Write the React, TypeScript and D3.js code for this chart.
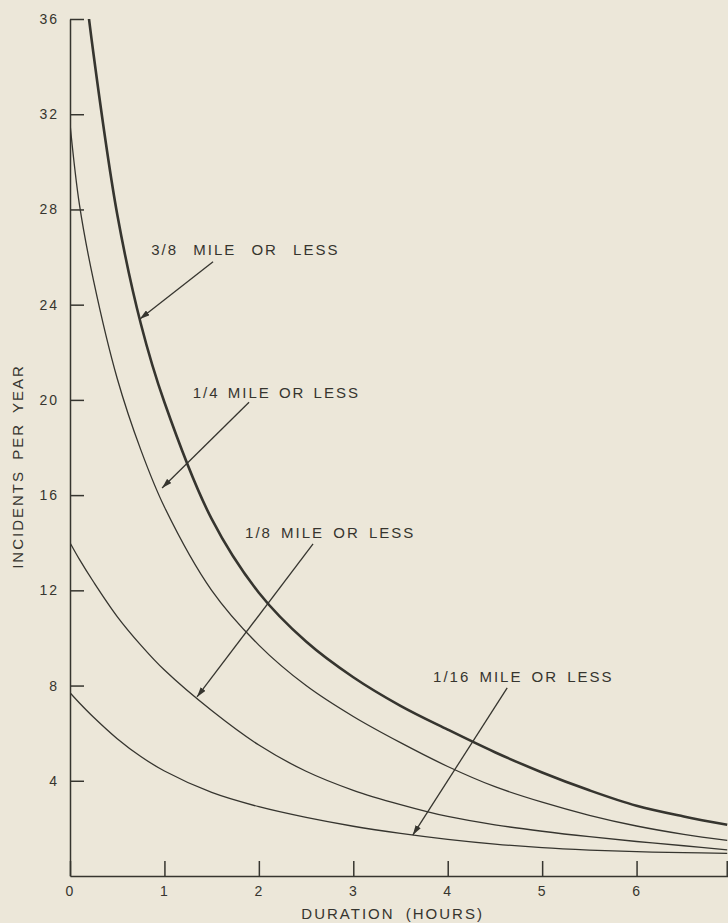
import * as d3 from "d3";
import * as React from "react";
import { useEffect, useRef } from "react";

const width = 728;
const height = 923;

// duration in hours, shared by every curve
const hours = [0, 0.1, 0.25, 0.5, 0.75, 1, 1.5, 2, 2.5, 3, 3.5, 4, 4.5, 5, 5.5, 6, 6.5, 6.96];

// incidents per year
const threeEighthMile = [43.8, 39.5, 34.5, 27.8, 23.2, 19.9, 15.0, 11.9, 9.85, 8.35, 7.15, 6.15, 5.2, 4.35, 3.6, 2.95, 2.5, 2.15];
const quarterMile = [31.6, 28.2, 25.0, 20.9, 17.9, 15.5, 12.0, 9.7, 8.0, 6.7, 5.6, 4.6, 3.75, 3.1, 2.55, 2.1, 1.75, 1.5];
const eighthMile = [14.0, 13.3, 12.35, 10.9, 9.7, 8.65, 6.95, 5.5, 4.4, 3.6, 3.0, 2.5, 2.15, 1.88, 1.65, 1.45, 1.27, 1.1];
const sixteenthMile = [7.7, 7.27, 6.67, 5.77, 5.02, 4.41, 3.51, 2.91, 2.46, 2.09, 1.79, 1.54, 1.34, 1.19, 1.09, 1.02, 0.98, 0.95];

const xTicks = [0, 1, 2, 3, 4, 5, 6];
const yTicks = [4, 8, 12, 16, 20, 24, 28, 32, 36];
const xEnd = 6.96;

const series = [
  { name: "3/8 MILE OR LESS", values: threeEighthMile, heavy: true },
  { name: "1/4 MILE OR LESS", values: quarterMile, heavy: false },
  { name: "1/8 MILE OR LESS", values: eighthMile, heavy: false },
  { name: "1/16 MILE OR LESS", values: sixteenthMile, heavy: false },
];

// label / arrow anchors in data units (hours, incidents)
const notes = [
  { text: "3/8 MILE OR LESS", label: [0.86, 26.1], tail: [1.515, 25.8], tip: [0.74, 23.4], ws: 9 },
  { text: "1/4 MILE OR LESS", label: [1.3, 20.1], tail: [1.896, 19.9], tip: [0.975, 16.3], ws: 2 },
  { text: "1/8 MILE OR LESS", label: [1.854, 14.2], tail: [2.574, 13.95], tip: [1.345, 7.52], ws: 3 },
  { text: "1/16 MILE OR LESS", label: [3.845, 8.15], tail: [4.63, 7.9], tip: [3.63, 1.72], ws: 3 },
];

const ink = "#36352f";
const paper = "#ece7d9";
const font = "'Liberation Sans', Arial, sans-serif";

const x = d3.scaleLinear().domain([0, 7]).range([70, 731]);
const y = d3.scaleLinear().domain([0, 36]).range([876, 19]);

export default function App() {
  const xAxisRef = useRef<SVGGElement>(null);
  const yAxisRef = useRef<SVGGElement>(null);

  useEffect(() => {
    const gx = d3.select(xAxisRef.current);
    gx.call(
      d3.axisBottom(x).tickValues(xTicks).tickSizeInner(-15).tickSizeOuter(0).tickPadding(10).tickFormat(d3.format("d"))
    );
    const gy = d3.select(yAxisRef.current);
    gy.call(
      d3.axisLeft(y).tickValues(yTicks).tickSizeInner(-14).tickSizeOuter(0).tickPadding(11).tickFormat(d3.format("d"))
    );
    [gx, gy].forEach((g) => {
      g.selectAll("path, line").attr("stroke", ink).attr("stroke-width", 1.5);
      g.selectAll("text")
        .attr("fill", ink)
        .style("font-family", font)
        .style("font-size", "14px")
        .style("letter-spacing", "2px");
    });
  }, []);

  const line = d3
    .line<number>()
    .x((_, i) => x(hours[i]))
    .y((d) => y(d))
    .curve(d3.curveCatmullRom.alpha(0.5));

  return (
    <svg
      width={width}
      height={height}
      style={{ position: "absolute", left: 0, top: 0, display: "block" }}
    >
      <defs>
        <clipPath id="plot">
          <rect x={x(0)} y={y(36)} width={x(7) - x(0)} height={y(0) - y(36)} />
        </clipPath>
        <marker id="head" viewBox="0 0 10 6" refX="10" refY="3" markerWidth="10" markerHeight="6" markerUnits="userSpaceOnUse" orient="auto">
          <path d="M0,0 L10,3 L0,6 Z" fill={ink} />
        </marker>
      </defs>
      <rect width={width} height={height} fill={paper} />

      <g clipPath="url(#plot)">
        {series.map((s) => (
          <path
            key={s.name}
            d={line(s.values) || ""}
            fill="none"
            stroke={ink}
            strokeWidth={s.heavy ? 2.6 : 1.3}
          />
        ))}
      </g>

      <g ref={xAxisRef} transform={`translate(0,${y(0)})`} />
      <g ref={yAxisRef} transform={`translate(${x(0)},0)`} />
      <line x1={x(xEnd)} x2={x(xEnd)} y1={y(0)} y2={y(0) - 15} stroke={ink} strokeWidth={1.5} />

      {notes.map((n) => (
        <g key={n.text}>
          <line
            x1={x(n.tail[0])}
            y1={y(n.tail[1])}
            x2={x(n.tip[0])}
            y2={y(n.tip[1])}
            stroke={ink}
            strokeWidth={1.3}
            markerEnd="url(#head)"
          />
          <text
            x={x(n.label[0])}
            y={y(n.label[1])}
            fill={ink}
            style={{ fontFamily: font, fontSize: 15, letterSpacing: "2px", wordSpacing: `${n.ws}px` }}
          >
            {n.text}
          </text>
        </g>
      ))}

      <text
        x={(x(0) + x(xEnd)) / 2 - 6}
        y={919}
        textAnchor="middle"
        fill={ink}
        style={{ fontFamily: font, fontSize: 15, letterSpacing: "2px", wordSpacing: "5px" }}
      >
        DURATION (HOURS)
      </text>
      <text
        transform={`translate(23,${y(17.2)}) rotate(-90)`}
        textAnchor="middle"
        fill={ink}
        style={{ fontFamily: font, fontSize: 15, letterSpacing: "2px", wordSpacing: "4px" }}
      >
        INCIDENTS PER YEAR
      </text>
    </svg>
  );
}
